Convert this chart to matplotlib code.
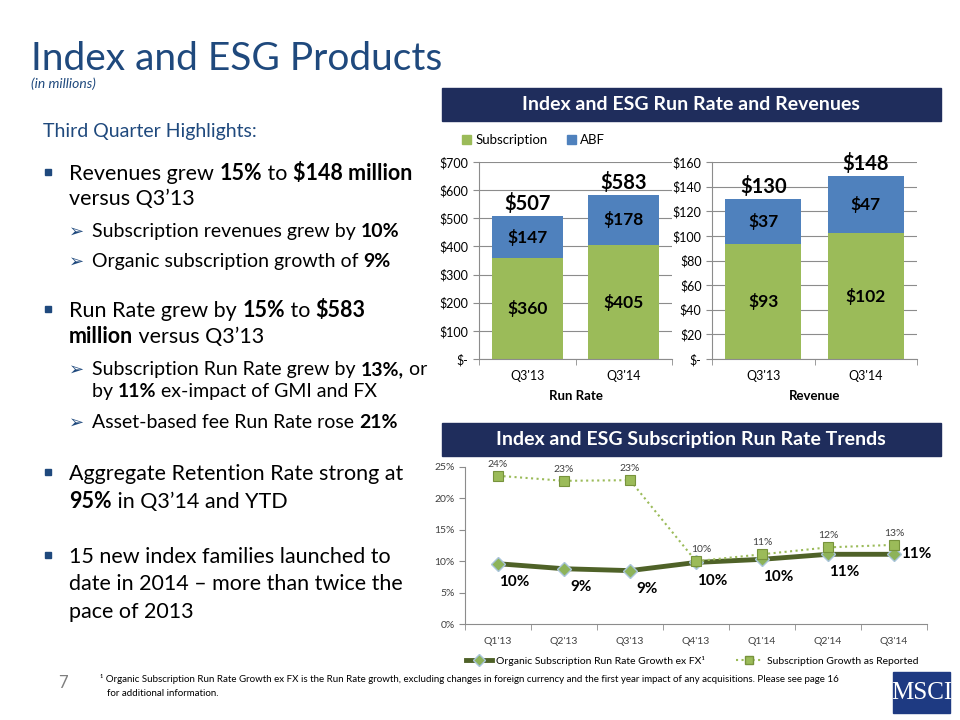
import matplotlib
matplotlib.use('Agg')
import matplotlib.pyplot as plt
from matplotlib.patches import Rectangle, Patch
from matplotlib.lines import Line2D
from matplotlib.font_manager import FontProperties

plt.rcParams['font.family'] = ['Lato', 'DejaVu Sans']

# データ
bar_cats = ["Q3'13", "Q3'14"]
run_sub = [360, 405]
run_abf = [147, 178]
run_tot = [507, 583]
rev_sub = [93, 102]
rev_abf = [37, 47]
rev_tot = [130, 148]

quarters = ["Q1'13", "Q2'13", "Q3'13", "Q4'13", "Q1'14", "Q2'14", "Q3'14"]
organic = [9.6, 8.8, 8.5, 9.8, 10.3, 11.1, 11.1]
organic_lbl = ['10%', '9%', '9%', '10%', '10%', '11%', '11%']
reported = [23.6, 22.8, 22.9, 10.0, 11.1, 12.2, 12.6]
reported_lbl = ['24%', '23%', '23%', '10%', '11%', '12%', '13%']

# 色
GREEN = '#9BBB59'
BLUE = '#4F81BD'
NAVY = '#1F2D5C'
TITLE = '#1F497D'
GRID = '#8C8C8C'
DARK = '#4F6228'

W, H = 960, 720
fig = plt.figure(figsize=(9.6, 7.2), dpi=100)


def rect(x0, y0, x1, y1):
    return [x0 / W, 1 - y1 / H, (x1 - x0) / W, (y1 - y0) / H]


def fx(x):
    return x / W


def fy(y):
    return 1 - y / H


# 棒グラフ
def stacked(ax, sub, abf, tot, ymax, step, xlabel):
    x = list(range(len(bar_cats)))
    ax.bar(x, sub, 0.74, color=GREEN, zorder=2)
    ax.bar(x, abf, 0.74, bottom=sub, color=BLUE, zorder=2)
    ax.set_xlim(-0.5, 1.5)
    ax.set_ylim(0, ymax)
    ticks = list(range(0, ymax + 1, step))
    ax.set_yticks(ticks)
    ax.set_yticklabels(['$-'] + ['$%d' % v for v in ticks[1:]])
    ax.yaxis.grid(True, color=GRID, lw=0.8)
    ax.set_axisbelow(True)
    for sp in ['top', 'right']:
        ax.spines[sp].set_visible(False)
    for sp in ['left', 'bottom']:
        ax.spines[sp].set_color(GRID)
    ax.set_xticks(x)
    ax.set_xticklabels(bar_cats)
    ax.set_xticks([-0.5, 0.5, 1.5], minor=True)
    ax.tick_params(axis='x', which='major', length=0, labelsize=9, pad=8)
    ax.tick_params(axis='x', which='minor', length=4, color=GRID)
    ax.tick_params(axis='y', length=4, color=GRID, labelsize=9)
    ax.set_xlabel(xlabel, fontweight='bold', fontsize=9.5, labelpad=6)
    for i in x:
        ax.text(i, sub[i] / 2, '$%d' % sub[i], ha='center', va='center',
                fontsize=12.5, fontweight='bold')
        ax.text(i, sub[i] + abf[i] / 2, '$%d' % abf[i], ha='center', va='center',
                fontsize=12.5, fontweight='bold')
        ax.text(i, tot[i] + ymax * 0.012, '$%d' % tot[i], ha='center', va='bottom',
                fontsize=14.5, fontweight='bold')


ax1 = fig.add_axes(rect(479, 162, 672, 359))
stacked(ax1, run_sub, run_abf, run_tot, 700, 100, 'Run Rate')
ax2 = fig.add_axes(rect(712, 162, 917, 359))
stacked(ax2, rev_sub, rev_abf, rev_tot, 160, 20, 'Revenue')

fig.legend([Patch(color=GREEN), Patch(color=BLUE)], ['Subscription', 'ABF'],
           loc='center left', bbox_to_anchor=(fx(450), fy(140)), ncol=2,
           frameon=False, fontsize=9.5, handlelength=0.7, handleheight=0.7,
           handletextpad=0.3, columnspacing=1.5)

# 折れ線グラフ
ax3 = fig.add_axes(rect(465, 467, 927, 624))
xs = list(range(len(quarters)))
ax3.plot(xs, organic, color=DARK, lw=3.5, marker='D', ms=7,
         mfc='#8DB35A', mec='#A9C4DA', mew=1, zorder=3)
ax3.plot(xs, reported, color=GREEN, lw=1.5, ls=':', marker='s', ms=6.5,
         mfc=GREEN, mec='#77933C', mew=0.8, zorder=4)
ax3.set_xlim(-0.5, 6.5)
ax3.set_ylim(0, 25)
ax3.set_yticks(range(0, 26, 5))
ax3.set_yticklabels(['%d%%' % v for v in range(0, 26, 5)])
ax3.set_xticks(xs)
ax3.set_xticklabels(quarters)
ax3.set_xticks([i - 0.5 for i in range(8)], minor=True)
ax3.tick_params(axis='x', which='major', length=0, labelsize=7.5, pad=9, labelcolor='#404040')
ax3.tick_params(axis='x', which='minor', length=4, color=GRID)
ax3.tick_params(axis='y', length=4, color=GRID, labelsize=7.5, labelcolor='#404040')
for sp in ['top', 'right']:
    ax3.spines[sp].set_visible(False)
for sp in ['left', 'bottom']:
    ax3.spines[sp].set_color(GRID)

for i in xs:
    if i == len(xs) - 1:
        ax3.annotate(organic_lbl[i], (i, organic[i]), xytext=(5, 0), textcoords='offset points',
                     ha='left', va='center', fontsize=11, fontweight='bold')
    else:
        ax3.annotate(organic_lbl[i], (i, organic[i]), xytext=(12, -13), textcoords='offset points',
                     ha='center', va='center', fontsize=11, fontweight='bold')
    dx = 4 if i == 3 else 0
    ax3.annotate(reported_lbl[i], (i, reported[i]), xytext=(dx, 5), textcoords='offset points',
                 ha='center', va='bottom', fontsize=7.5, color='#404040')

fig.legend([Line2D([], [], color=DARK, lw=3.5, marker='D', ms=6, mfc='#8DB35A', mec='#A9C4DA'),
            Line2D([], [], color=GREEN, lw=1.5, ls=':', marker='s', ms=6, mfc=GREEN, mec='#77933C')],
           ['Organic Subscription Run Rate Growth ex FX\u00b9', 'Subscription Growth as Reported'],
           loc='center', bbox_to_anchor=(fx(692), fy(661)), ncol=2, frameon=False,
           fontsize=7.5, handlelength=2.5, columnspacing=3, handletextpad=0.4)

# 見出しバー
for y0, y1, txt in [(88, 121, 'Index and ESG Run Rate and Revenues'),
                    (423, 456, 'Index and ESG Subscription Run Rate Trends')]:
    fig.patches.append(Rectangle((fx(442), fy(y1)), (941 - 442) / W, (y1 - y0) / H,
                                 transform=fig.transFigure, color=NAVY))
    fig.text(fx(691), fy((y0 + y1) / 2), txt, ha='center', va='center',
             fontsize=14, fontweight='bold', color='white')

# 左側のテキスト
fig.text(fx(31), fy(70), 'Index and ESG Products', fontsize=28, color=TITLE, va='baseline')
fig.text(fx(31), fy(88), '(in millions)', fontsize=10, style='italic', color=TITLE, va='baseline')
fig.text(fx(43), fy(137), 'Third Quarter Highlights:', fontsize=14, color=TITLE, va='baseline')

r = fig.canvas.get_renderer()


def tw(s, size, bold):
    fp = FontProperties(family=['Lato', 'DejaVu Sans'], size=size,
                        weight='bold' if bold else 'normal')
    w1 = r.get_text_width_height_descent('|' + s + '|', fp, ismath=False)[0]
    w0 = r.get_text_width_height_descent('||', fp, ismath=False)[0]
    return w1 - w0


def rich(x, y, parts, size):
    for s, b in parts:
        fig.text(fx(x), fy(y), s, fontsize=size, fontweight='bold' if b else 'normal',
                 color='black', va='baseline', ha='left')
        x += tw(s, size, b)


F, T = False, True
main_lines = [
    (180, [("Revenues grew ", F), ("15%", T), (" to ", F), ("$148 million", T)]),
    (205, [("versus Q3\u201913", F)]),
    (317, [("Run Rate grew by ", F), ("15%", T), (" to ", F), ("$583", T)]),
    (343, [("million", T), (" versus Q3\u201913", F)]),
    (480, [("Aggregate Retention Rate strong at", F)]),
    (508, [("95%", T), (" in Q3\u201914 and YTD", F)]),
    (563, [("15 new index families launched to", F)]),
    (590, [("date in 2014 \u2013 more than twice the", F)]),
    (618, [("pace of 2013", F)]),
]
sub_lines = [
    (237, [("Subscription revenues grew by ", F), ("10%", T)]),
    (267, [("Organic subscription growth of ", F), ("9%", T)]),
    (375, [("Subscription Run Rate grew by ", F), ("13%,", T), (" or", F)]),
    (397, [("by ", F), ("11%", T), (" ex-impact of GMI and FX", F)]),
    (428, [("Asset-based fee Run Rate rose ", F), ("21%", T)]),
]
for y, parts in main_lines:
    rich(69, y, parts, 15.5)
for y, parts in sub_lines:
    rich(92, y, parts, 14)

for y in [180, 317, 480, 563]:
    fig.patches.append(Rectangle((fx(45), fy(y - 5)), 6 / W, 6 / H,
                                 transform=fig.transFigure, color=TITLE))
for y in [237, 267, 375, 428]:
    fig.text(fx(69), fy(y), '\u27a2', fontsize=13, color=TITLE, va='baseline',
             family=['DejaVu Sans'])

# 脚注
fig.text(fx(100), fy(682), '\u00b9 Organic Subscription Run Rate Growth ex FX is the Run Rate growth, '
         'excluding changes in foreign currency and the first year impact of any acquisitions. '
         'Please see page 16', fontsize=7.05, va='baseline')
fig.text(fx(107), fy(696), 'for additional information.', fontsize=7.05, va='baseline')
fig.text(fx(58), fy(688), '7', fontsize=12, color='#7F7F7F', va='baseline')

# ロゴ
fig.patches.append(Rectangle((fx(893), fy(713)), 57 / W, 41 / H,
                             transform=fig.transFigure, color='#1E3A82'))
fig.text(fx(921.5), fy(693), 'MSCI', ha='center', va='center', fontsize=18,
         color='white', family=['Liberation Serif'])

fig.savefig('out.png', dpi=100)
